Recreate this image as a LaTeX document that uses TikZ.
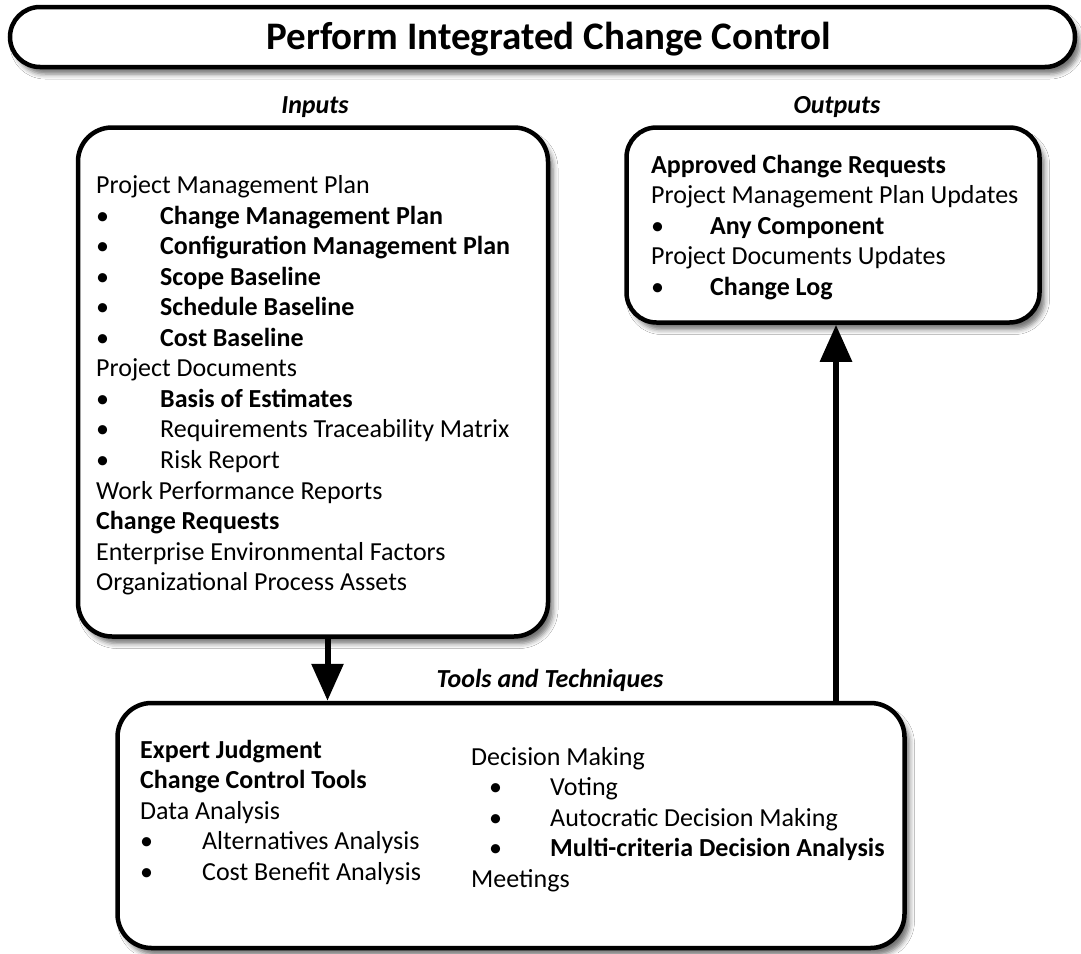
\documentclass[tikz,border=0pt]{standalone}
\usepackage{fontspec}
\setmainfont{Carlito}
\usetikzlibrary{arrows.meta,shadows.blur}

% bullet with left indent #1 inside a tab box of width #2
\newcommand\bul[2]{\makebox[#2][l]{\hspace*{#1}\mdseries •}}

\tikzset{
  panel/.style={draw, line width=4.5pt, fill=white, rounded corners=34pt,
    blur shadow={shadow xshift=5pt, shadow yshift=-7pt, shadow blur radius=5pt, shadow opacity=55}},
  flow/.style={line width=6pt, -{Triangle[length=37pt,width=31pt]}},
  heading/.style={anchor=base, font=\fontsize{26}{30}\selectfont\bfseries\itshape, inner sep=0pt},
  ln/.style={anchor=base west, inner sep=0pt, font=\fontsize{26}{30}\selectfont},
  lb/.style={ln, font=\fontsize{26}{30}\selectfont\bfseries},
}

\begin{document}
\begin{tikzpicture}[x=1pt,y=-1pt]
  \useasboundingbox[fill=white] (0,0) rectangle (1081,953);

  % title banner
  \node[panel, rounded corners=30pt, minimum width=1065pt, minimum height=60pt] (title) at (542.5,37) {};
  \node[anchor=base, inner sep=0pt, font=\fontsize{39}{44}\selectfont\bfseries] (ttext) at (549,49)
    {Perform Integrated Change Control};

  % the three process boxes
  \node[panel, minimum width=470pt, minimum height=509pt] (inp) at (313,382) {};
  \node[panel, rounded corners=30pt, minimum width=413pt, minimum height=195pt] (out) at (833,225) {};
  \node[panel, minimum width=787pt, minimum height=245pt] (tools) at (511,825.5) {};

  % section headings
  \node[heading] (hin) at (315,113) {Inputs};
  \node[heading] (hout) at (837,113) {Outputs};
  \node[heading] (htt) at (550,687) {Tools and Techniques};

  % flow between boxes
  \coordinate (a1) at (327.5,0);
  \coordinate (a2) at (836,0);
  \draw[flow] (inp.south -| a1) -- (tools.north -| a1);
  \draw[flow] (tools.north -| a2) -- (out.south -| a2);

  % inputs list
  \foreach \sty/\txt [count=\i from 0] in {
      ln/Project Management Plan,
      lb/\bul{0pt}{64pt}Change Management Plan,
      lb/\bul{0pt}{64pt}Configuration Management Plan,
      lb/\bul{0pt}{64pt}Scope Baseline,
      lb/\bul{0pt}{64pt}Schedule Baseline,
      lb/\bul{0pt}{64pt}Cost Baseline,
      ln/Project Documents,
      lb/\bul{0pt}{64pt}Basis of Estimates,
      ln/\bul{0pt}{64pt}Requirements Traceability Matrix,
      ln/\bul{0pt}{64pt}Risk Report,
      ln/Work Performance Reports,
      lb/Change Requests,
      ln/Enterprise Environmental Factors,
      ln/Organizational Process Assets}
    \node[\sty] (in\i) at (96,193.5+30.55*\i) {\txt};

  % outputs list
  \foreach \sty/\txt [count=\i from 0] in {
      lb/Approved Change Requests,
      ln/Project Management Plan Updates,
      lb/\bul{0pt}{59pt}Any Component,
      ln/Project Documents Updates,
      lb/\bul{0pt}{59pt}Change Log}
    \node[\sty] (o\i) at (651,173.5+30.4*\i) {\txt};

  % tools and techniques, left column
  \foreach \sty/\txt [count=\i from 0] in {
      lb/Expert Judgment,
      lb/Change Control Tools,
      ln/Data Analysis,
      ln/\bul{0pt}{62pt}Alternatives Analysis,
      ln/\bul{0pt}{62pt}Cost Benefit Analysis}
    \node[\sty] (tl\i) at (140,758+30.6*\i) {\txt};

  % tools and techniques, right column
  \foreach \sty/\txt [count=\i from 0] in {
      ln/Decision Making,
      ln/\bul{18pt}{79pt}Voting,
      ln/\bul{18pt}{79pt}Autocratic Decision Making,
      lb/\bul{18pt}{79pt}Multi-criteria Decision Analysis,
      ln/Meetings}
    \node[\sty] (tr\i) at (471,765+30.6*\i) {\txt};
\end{tikzpicture}
\end{document}
